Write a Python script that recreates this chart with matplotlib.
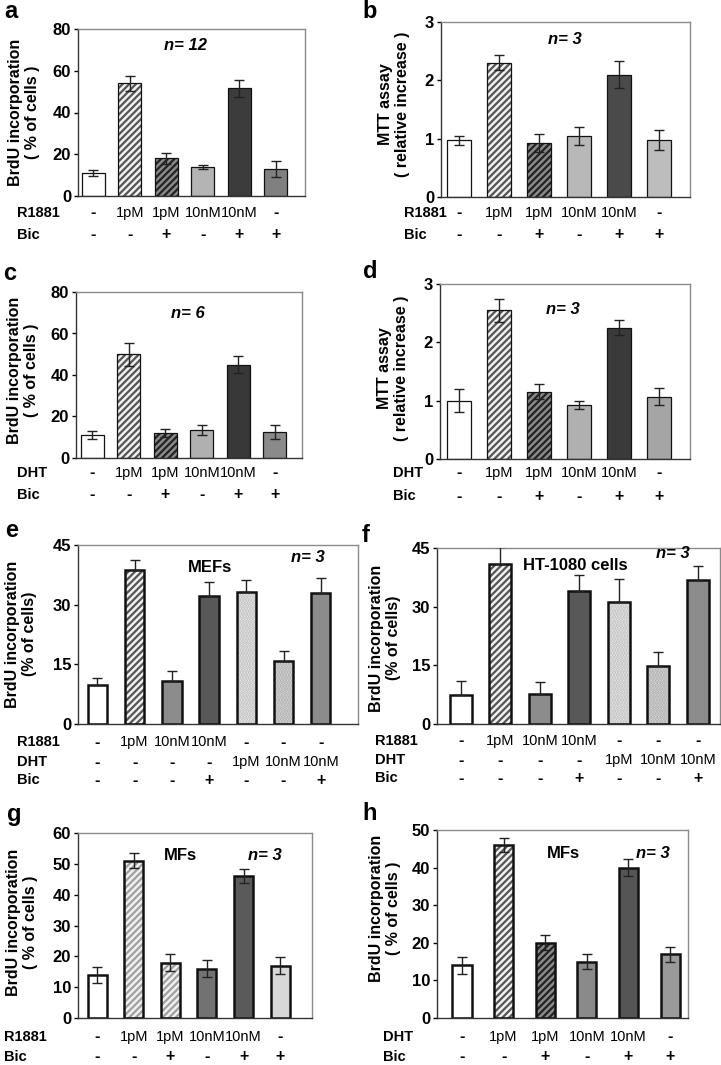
import numpy as np
import matplotlib
matplotlib.use('Agg')
import matplotlib.pyplot as plt
from matplotlib.transforms import blended_transform_factory

plt.rcParams['font.family'] = ['Liberation Sans', 'DejaVu Sans']
plt.rcParams['hatch.linewidth'] = 1.6

W, H = 721, 1065

# ---- data ----
a_vals = [11, 54, 18, 14, 51.5, 13]
a_err = [1.5, 3.5, 2.5, 1.0, 4.0, 4.0]
b_vals = [0.97, 2.3, 0.93, 1.05, 2.1, 0.98]
b_err = [0.07, 0.13, 0.15, 0.15, 0.23, 0.17]
c_vals = [11, 50, 12, 13.5, 45, 12.5]
c_err = [2.0, 5.5, 2.0, 2.5, 4.0, 3.5]
d_vals = [1.0, 2.55, 1.15, 0.93, 2.25, 1.07]
d_err = [0.2, 0.2, 0.13, 0.07, 0.13, 0.14]
e_vals = [9.7, 38.7, 10.8, 32.2, 33.2, 15.9, 33.0]
e_err = [1.9, 2.6, 2.6, 3.6, 2.9, 2.5, 3.6]
f_vals = [7.3, 40.8, 7.6, 34.0, 31.2, 14.8, 36.7]
f_err = [3.7, 4.5, 3.1, 4.1, 5.8, 3.7, 3.7]
g_vals = [14, 51, 18, 16, 46, 17]
g_err = [2.5, 2.5, 2.7, 2.7, 2.3, 2.7]
h_vals = [14, 46, 20, 15, 40, 17]
h_err = [2.2, 1.8, 2.0, 2.0, 2.3, 2.0]

r1881_6 = ['-', '1pM', '1pM', '10nM', '10nM', '-']
dht_6 = ['-', '1pM', '1pM', '10nM', '10nM', '-']
bic_6 = ['-', '-', '+', '-', '+', '+']
r1881_7 = ['-', '1pM', '10nM', '10nM', '-', '-', '-']
dht_7 = ['-', '-', '-', '-', '1pM', '10nM', '10nM']
bic_7 = ['-', '-', '-', '+', '-', '-', '+']

# bar styles: (face, hatch, hatch colour)
STY = {
    'white': ('white', None, None),
    'hl': ('#f0f0f0', '/////', '#555555'),
    'hll': ('#f0f0f0', '/////', '#a0a0a0'),
    'hd': ('#8a8a8a', '/////', '#222222'),
    'dl': ('#f2f2f2', '......', '#b8b8b8'),
    'dm': ('#e0e0e0', '......', '#a8a8a8'),
}

fig = plt.figure(figsize=(W / 100, H / 100), dpi=100)


def fx(x):
    return x / W


def fy(y):
    return 1 - y / H


def panel(p):
    l, t, r, b = p['box']
    ax = fig.add_axes([fx(l), fy(b), (r - l) / W, (b - t) / H])
    vals, errs = p['vals'], p['errs']
    n = len(vals)
    lw = p['elw']
    for i, (v, c) in enumerate(zip(vals, p['colors'])):
        if c in STY:
            face, hatch, hc = STY[c]
        else:
            face, hatch, hc = c, None, None
        if hatch:
            ax.bar(i, v, width=p['w'], color=face, hatch=hatch, edgecolor=hc, linewidth=0, zorder=2)
            ax.bar(i, v, width=p['w'], fill=False, edgecolor='#111111', linewidth=lw, zorder=3)
        else:
            ax.bar(i, v, width=p['w'], color=face, edgecolor='#111111', linewidth=lw, zorder=2)
    if p.get('up'):
        yerr = [np.zeros(n), errs]
    else:
        yerr = errs
    ax.errorbar(range(n), vals, yerr=yerr, fmt='none', ecolor='#222222',
                elinewidth=1.0, capsize=3.5, capthick=1.0, zorder=4)
    ax.set_xlim(*p['xlim'])
    ax.set_ylim(0, p['yticks'][-1])
    ax.set_yticks(p['yticks'])
    ax.set_xticks([])
    ax.tick_params(axis='y', direction='out', length=3, width=1, labelsize=12, pad=2)
    for lb in ax.get_yticklabels():
        lb.set_fontweight('bold')
    for s in ['left', 'bottom']:
        ax.spines[s].set_color('#333333')
        ax.spines[s].set_linewidth(1.0)
    for s in ['top', 'right']:
        ax.spines[s].set_color('#8a8a8a')
        ax.spines[s].set_linewidth(1.0)

    # y label
    fig.text(fx(p['ylab_xy'][0]), fy(p['ylab_xy'][1]), p['ylabel'], rotation=90,
             ha='center', va='center', fontsize=11.5, fontweight='bold', linespacing=1.2)
    # panel letter
    fig.text(fx(p['letter_xy'][0]), fy(p['letter_xy'][1]), p['letter'],
             ha='left', va='center', fontsize=17, fontweight='bold')
    # annotations
    for (txt, x, y, style) in p['texts']:
        fig.text(fx(x), fy(y), txt, ha='center', va='center', fontsize=12,
                 fontweight='bold', style=style)
    # treatment rows
    tr = blended_transform_factory(ax.transData, fig.transFigure)
    for (name, labels), y in zip(p['rows'], p['row_y']):
        fig.text(fx(p['name_x']), fy(y), name, ha='left', va='center',
                 fontsize=10.5, fontweight='bold')
        for i, s in enumerate(labels):
            sym = s in ('-', '+')
            ax.text(i, fy(y), s, transform=tr, ha='center', va='center',
                    fontsize=11.5 if sym else 10.5, fontweight='bold' if sym else 'normal')
    return ax


lab_brdu = 'BrdU incorporation\n( % of cells )'
lab_brdu2 = 'BrdU incorporation\n(% of cells)'
lab_mtt = 'MTT assay\n( relative increase )'

panels = [
    dict(box=(78, 29, 305, 196), vals=a_vals, errs=a_err, w=0.63, xlim=(-0.42, 5.8),
         colors=['white', 'hl', 'hd', '#b4b4b4', '#3c3c3c', '#808080'], elw=0.9,
         yticks=[0, 20, 40, 60, 80], ylabel=lab_brdu, ylab_xy=(24, 112),
         letter='a', letter_xy=(4, 12), texts=[('n= 12', 186, 46, 'italic')],
         rows=[('R1881', r1881_6), ('Bic', bic_6)], row_y=[213, 235], name_x=17),
    dict(box=(441, 22, 690, 197), vals=b_vals, errs=b_err, w=0.6, xlim=(-0.45, 5.78),
         colors=['white', 'hl', 'hd', '#b8b8b8', '#4a4a4a', '#bdbdbd'], elw=0.9,
         yticks=[0, 1, 2, 3], ylabel=lab_mtt, ylab_xy=(394, 104),
         letter='b', letter_xy=(362, 12), texts=[('n= 3', 565, 40, 'italic')],
         rows=[('R1881', r1881_6), ('Bic', bic_6)], row_y=[213, 235], name_x=404),
    dict(box=(76, 292, 302, 458), vals=c_vals, errs=c_err, w=0.63, xlim=(-0.44, 5.74),
         colors=['white', 'hl', 'hd', '#b0b0b0', '#383838', '#8a8a8a'], elw=0.9,
         yticks=[0, 20, 40, 60, 80], ylabel=lab_brdu, ylab_xy=(23, 370),
         letter='c', letter_xy=(3, 273), texts=[('n= 6', 188, 313, 'italic')],
         rows=[('DHT', dht_6), ('Bic', bic_6)], row_y=[473, 495], name_x=17),
    dict(box=(440, 284, 690, 459), vals=d_vals, errs=d_err, w=0.6, xlim=(-0.47, 5.78),
         colors=['white', 'hl', 'hd', '#b0b0b0', '#3a3a3a', '#a5a5a5'], elw=0.9,
         yticks=[0, 1, 2, 3], ylabel=lab_mtt, ylab_xy=(393, 368),
         letter='d', letter_xy=(363, 272), texts=[('n= 3', 563, 309, 'italic')],
         rows=[('DHT', dht_6), ('Bic', bic_6)], row_y=[473, 496], name_x=393),
    dict(box=(78, 545, 358, 724), vals=e_vals, errs=e_err, w=0.52, xlim=(-0.52, 7.0), up=True,
         colors=['white', 'hl', '#8c8c8c', '#585858', 'dl', 'dm', '#8c8c8c'], elw=1.8,
         yticks=[0, 15, 30, 45], ylabel=lab_brdu2, ylab_xy=(21, 634),
         letter='e', letter_xy=(5, 530), texts=[('MEFs', 210, 567, 'normal'), ('n= 3', 308, 558, 'italic')],
         rows=[('R1881', r1881_7), ('DHT', dht_7), ('Bic', bic_7)], row_y=[742, 762, 780], name_x=17),
    dict(box=(437, 548, 720, 724), vals=f_vals, errs=f_err, w=0.55, xlim=(-0.6, 6.56), up=True,
         colors=['white', 'hl', '#8c8c8c', '#585858', 'dl', 'dm', '#8c8c8c'], elw=1.8,
         yticks=[0, 15, 30, 45], ylabel=lab_brdu2, ylab_xy=(385, 638),
         letter='f', letter_xy=(362, 535), texts=[('HT-1080 cells', 575, 565, 'normal'), ('n= 3', 673, 554, 'italic')],
         rows=[('R1881', r1881_7), ('DHT', dht_7), ('Bic', bic_7)], row_y=[741, 760, 778], name_x=375),
    dict(box=(78, 833, 312, 1018), vals=g_vals, errs=g_err, w=0.52, xlim=(-0.52, 5.87),
         colors=['white', 'hll', 'hll', '#727272', '#5a5a5a', '#d8d8d8'], elw=1.8,
         yticks=[0, 10, 20, 30, 40, 50, 60], ylabel=lab_brdu, ylab_xy=(22, 922),
         letter='g', letter_xy=(7, 814), texts=[('MFs', 180, 855, 'normal'), ('n= 3', 265, 855, 'italic')],
         rows=[('R1881', r1881_6), ('Bic', bic_6)], row_y=[1037, 1057], name_x=4),
    dict(box=(437, 830, 688, 1018), vals=h_vals, errs=h_err, w=0.46, xlim=(-0.6, 5.43),
         colors=['white', 'hl', 'hd', '#8a8a8a', '#555555', '#9a9a9a'], elw=1.8,
         yticks=[0, 10, 20, 30, 40, 50], ylabel=lab_brdu, ylab_xy=(385, 908),
         letter='h', letter_xy=(362, 813), texts=[('MFs', 563, 853, 'normal'), ('n= 3', 653, 853, 'italic')],
         rows=[('DHT', dht_6), ('Bic', bic_6)], row_y=[1037, 1057], name_x=383),
]

for p in panels:
    panel(p)

fig.savefig('out.png', dpi=100)
